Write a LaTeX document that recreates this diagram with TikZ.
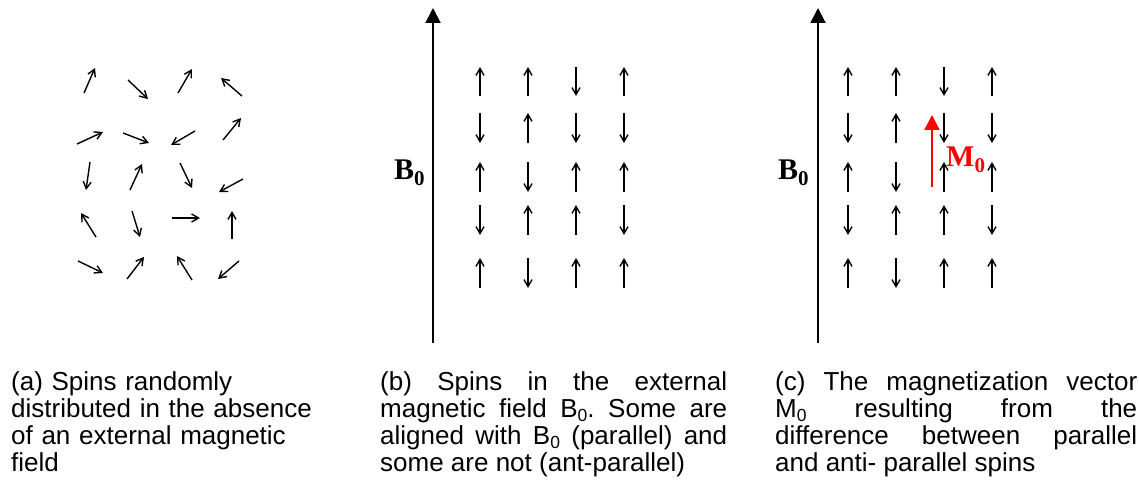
\documentclass[tikz,border=0pt]{standalone}
\usepackage{fontspec}
\setmainfont{Liberation Sans}
\newfontfamily\tnr{Liberation Serif}
\usetikzlibrary{arrows.meta}
\frenchspacing
\newcommand\lsub[1]{\raisebox{-0.17em}{\fontsize{17.5}{17.5}\selectfont #1}}
\newcommand\bigsub[1]{\raisebox{-0.2em}{\fontsize{21}{21}\selectfont #1}}
\tikzset{
  spin/.style={line width=1.4pt, -{Straight Barb[length=7pt,width=8pt]}},
  field/.style={line width=2pt, -{Triangle[length=15pt,width=15pt]}},
  magvec/.style={red, line width=2.3pt, -{Triangle[length=15pt,width=15pt]}},
  caption/.style={anchor=base west, inner sep=0pt, font=\fontsize{26}{27.2}\selectfont},
  biglabel/.style={anchor=base west, inner sep=0pt, font=\tnr\bfseries\fontsize{30}{30}\selectfont}
}
\begin{document}
\begin{tikzpicture}[x=1pt,y=-1pt]
\useasboundingbox (0,0) rectangle (1139,486);
% panel (a): random spins
\draw[spin] (84,93) -- (95,68);
\draw[spin] (128,80) -- (148,99);
\draw[spin] (178,93) -- (192,69);
\draw[spin] (242,96) -- (221,78);
\draw[spin] (77,144) -- (103,132);
\draw[spin] (123,133) -- (149,143);
\draw[spin] (195,131) -- (171,145);
\draw[spin] (223,140) -- (241,118);
\draw[spin] (90,162) -- (86,190);
\draw[spin] (130,190) -- (142,164);
\draw[spin] (180,163) -- (192,188);
\draw[spin] (243,179) -- (219,192);
\draw[spin] (96,237) -- (81,213);
\draw[spin] (132,211) -- (140,237);
\draw[spin] (172,218) -- (200,218);
\draw[spin] (232,239) -- (232,211);
\draw[spin] (78,261) -- (103,273);
\draw[spin] (127,279) -- (144,257);
\draw[spin] (192,280) -- (177,256);
\draw[spin] (239,261) -- (218,279);
% panel (b) and (c): field axes
\coordinate (bbot) at (433,343);
\coordinate (btop) at (433,8);
\draw[field] (bbot) -- (btop);
\coordinate (cbot) at (818,343);
\coordinate (ctop) at (818,8);
\draw[field] (cbot) -- (ctop);
\node[biglabel] (bl) at (394,180) {B\bigsub{0}};
\node[biglabel] (cl) at (778,180) {B\bigsub{0}};
% aligned / anti-aligned spins
\foreach \off in {0,368}{
\foreach \yt/\yb/\sa/\sb/\sc/\sd in {67/96/1/1/0/1, 113/143/0/1/0/0, 162/192/1/0/1/1, 205/235/0/1/1/0, 258/288/1/0/1/1}{
  \foreach \x/\s in {480/\sa, 528/\sb, 576/\sc, 624/\sd}{
    \ifnum\s=1
      \draw[spin] (\x+\off,\yb) -- (\x+\off,\yt);
    \else
      \draw[spin] (\x+\off,\yt) -- (\x+\off,\yb);
    \fi
  }
}}
% magnetization vector
\coordinate (mbot) at (932,187);
\coordinate (mtop) at (932,115);
\draw[magvec] (mbot) -- (mtop);
\node[biglabel, red] (ml) at (946,166.5) {M\bigsub{0}};
% captions
\node[caption, text width=320pt, align=left] (capa) at (11,390) {(a) Spins randomly\\distributed in the absence\\of an external magnetic\\field};
\node[caption, text width=347pt, align=justify] (capb) at (380,390) {(b) Spins in the external\linebreak magnetic field B\lsub{0}. Some are\linebreak aligned with B\lsub{0} (parallel) and\linebreak some are not (ant-parallel)};
\node[caption, text width=362pt, align=justify] (capc) at (775,390) {(c) The magnetization vector\linebreak M\lsub{0} resulting from the\linebreak difference between parallel\linebreak and anti- parallel spins};
\end{tikzpicture}
\end{document}
